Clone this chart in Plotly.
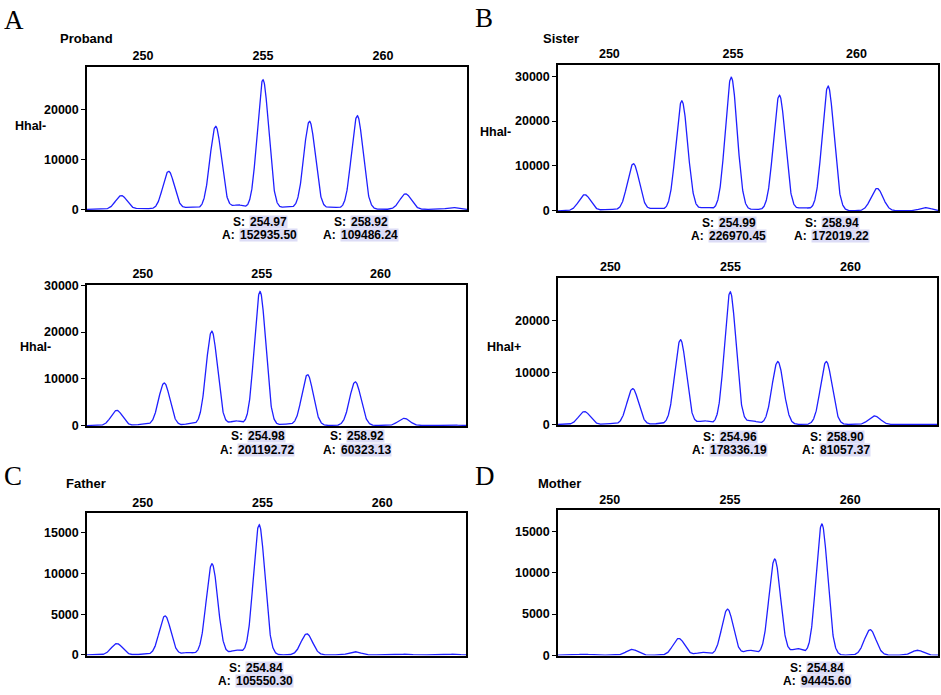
import numpy as np
import plotly.graph_objects as go

# peak sizes (bp) and heights
proband_1_sizes = [249.1, 250.0, 251.07, 252.0, 253.03, 253.96, 255.0, 256.0, 256.94, 257.9, 258.93, 260.94, 262.9]
proband_1_heights = [2750, 200, 7600, 450, 16600, 900, 25900, 500, 17600, 450, 18700, 3100, 350]

proband_2_sizes = [248.9, 250.0, 250.9, 252.0, 252.9, 253.9, 254.93, 256.0, 256.93, 258.94, 260.99, 262.96]
proband_2_heights = [3250, 250, 9100, 400, 20200, 1000, 28700, 300, 10900, 9350, 1550, 200]

sister_1_sizes = [249.0, 250.0, 250.97, 251.9, 252.93, 253.9, 254.93, 255.9, 256.88, 257.85, 258.85, 260.83, 262.8]
sister_1_heights = [3600, 350, 10500, 600, 24500, 800, 29800, 300, 25800, 700, 27800, 5000, 700]

sister_2_sizes = [248.92, 250.0, 250.93, 252.0, 252.92, 253.9, 254.99, 255.9, 256.97, 258.99, 261.0]
sister_2_heights = [2500, 150, 6900, 150, 16300, 700, 25500, 700, 12100, 12100, 1650]

father_sizes = [248.92, 250.0, 250.93, 251.9, 252.89, 253.9, 254.86, 256.85, 258.86, 261.0, 263.0]
father_heights = [1400, 80, 4800, 300, 11200, 600, 16000, 2600, 400, 100, 100]

mother_sizes = [248.92, 250.93, 252.87, 253.85, 254.9, 255.83, 256.86, 257.8, 258.82, 260.83, 262.8]
mother_heights = [120, 700, 2050, 350, 5600, 600, 11700, 800, 15950, 3100, 600]

# called peaks: size (S) and area (A)
proband_1_calls = [("254.97", "152935.50"), ("258.92", "109486.24")]
proband_2_calls = [("254.98", "201192.72"), ("258.92", "60323.13")]
sister_1_calls = [("254.99", "226970.45"), ("258.94", "172019.22")]
sister_2_calls = [("254.96", "178336.19"), ("258.90", "81057.37")]
father_calls = [("254.84", "105550.30")]
mother_calls = [("254.84", "94445.60")]

W, H = 941, 695
PEAK_SIGMA = 0.24
FONT = "Liberation Sans"
HIGHLIGHT = "#dcdcf6"
CALL_SIZE = 12
LINE_GAP = 13.5

# layout of each panel in pixels: x0, x1, y0, y1 (from top)
panels = [
    dict(sizes=proband_1_sizes, heights=proband_1_heights, calls=proband_1_calls,
         box=(87, 467, 62, 208), xr=(247.67, 263.5), yr=(-150, 28480), dtick=10000,
         ylab="HhaI-", ylab_pos=(48, 122), call_x=[254.85, 259.05], call_dy=11.5),
    dict(sizes=proband_2_sizes, heights=proband_2_heights, calls=proband_2_calls,
         box=(87, 466, 284, 428), xr=(247.65, 263.6), yr=(-100, 30150), dtick=10000,
         ylab="HhaI-", ylab_pos=(53, 347), call_x=[254.8, 259.0], call_dy=10.5),
    dict(sizes=sister_1_sizes, heights=sister_1_heights, calls=sister_1_calls,
         box=(558, 938, 60, 209), xr=(247.92, 263.3), yr=(-70, 32540), dtick=10000,
         ylab="HhaI-", ylab_pos=(513, 128), call_x=[254.8, 259.0], call_dy=11.5),
    dict(sizes=sister_2_sizes, heights=sister_2_heights, calls=sister_2_calls,
         box=(558, 937, 277, 427), xr=(247.82, 263.6), yr=(-100, 28200), dtick=10000,
         ylab="HhaI+", ylab_pos=(523, 348), call_x=[254.95, 259.4], call_dy=11.5),
    dict(sizes=father_sizes, heights=father_heights, calls=father_calls,
         box=(87, 466, 517, 662), xr=(247.67, 263.5), yr=(-80, 17400), dtick=5000,
         ylab=None, ylab_pos=None, call_x=[254.7], call_dy=12),
    dict(sizes=mother_sizes, heights=mother_heights, calls=mother_calls,
         box=(558, 938, 514, 662), xr=(247.85, 263.65), yr=(-50, 17600), dtick=5000,
         ylab=None, ylab_pos=None, call_x=[258.6], call_dy=12),
]

titles = [("Proband", 58, 33), ("Sister", 541, 33), ("Father", 64, 487), ("Mother", 536, 487)]
letters = [("A", 2, 14), ("B", 473, 12), ("C", 2, 479), ("D", 473, 479)]


def text_w(s, size):
    # rough Arial bold width
    w = 0
    for c in s:
        if c.isdigit():
            w += 0.556
        elif c == ".":
            w += 0.278
        elif c == ":":
            w += 0.333
        elif c == " ":
            w += 0.278
        else:
            w += 0.72
    return w * size


bold = dict(family=FONT, size=12.5, color="black", weight="bold")
call_font = dict(family=FONT, size=CALL_SIZE, color="black", weight="bold")

fig = go.Figure()
annotations = []
layout = {}

for i, p in enumerate(panels):
    n = "" if i == 0 else str(i + 1)
    xa, ya = "x" + n, "y" + n
    x = np.linspace(p["xr"][0], p["xr"][1], 1600)
    y = np.zeros_like(x)
    for s, h in zip(p["sizes"], p["heights"]):
        y += h * np.exp(-((x - s) ** 2) / (2 * PEAK_SIGMA ** 2))
    fig.add_trace(go.Scatter(x=x, y=y, mode="lines", line=dict(color="#1f1fff", width=1.3),
                             xaxis=xa, yaxis=ya, showlegend=False, hoverinfo="skip"))

    x0, x1, y0, y1 = p["box"]
    layout["xaxis" + n] = dict(
        domain=[x0 / W, x1 / W], anchor=ya, side="top", range=list(p["xr"]),
        tickvals=[250, 255, 260], ticks="", showgrid=False, zeroline=False,
        showline=True, mirror=True, linecolor="black", linewidth=1.5,
        tickfont=bold,
    )
    layout["yaxis" + n] = dict(
        domain=[1 - y1 / H, 1 - y0 / H], anchor=xa, range=list(p["yr"]),
        dtick=p["dtick"], tick0=0, tickformat="d", ticks="outside", ticklen=4,
        tickcolor="black", showgrid=False, zeroline=False,
        showline=True, mirror=True, linecolor="black", linewidth=1.5,
        tickfont=bold,
    )

    if p["ylab"]:
        lx, ly = p["ylab_pos"]
        annotations.append(dict(text=p["ylab"], x=lx / W, y=1 - ly / H,
                                xref="paper", yref="paper", xanchor="right", yanchor="middle",
                                showarrow=False, font=bold))

    # S / A call labels under the peaks
    for (s_val, a_val), cx in zip(p["calls"], p["call_x"]):
        for k, (pre, num) in enumerate([("S: ", s_val), ("A: ", a_val)]):
            shift = (text_w(num, CALL_SIZE) - text_w(pre, CALL_SIZE)) / 2
            dy = -(p["call_dy"] + k * LINE_GAP)
            common = dict(x=cx, y=0, xref=xa, yref=ya + " domain", yanchor="middle",
                          yshift=dy, showarrow=False, height=12, valign="middle", font=call_font)
            annotations.append(dict(text=pre.strip(), xanchor="right",
                                    xshift=-shift - 2, **common))
            annotations.append(dict(text=num, xanchor="left", xshift=-shift,
                                    bgcolor=HIGHLIGHT, borderpad=0, **common))

for t, tx, ty in titles:
    annotations.append(dict(text=t, x=tx / W, y=1 - ty / H, xref="paper", yref="paper",
                            xanchor="left", yanchor="middle", showarrow=False,
                            font=dict(family=FONT, size=13, color="black", weight="bold")))

for t, tx, ty in letters:
    annotations.append(dict(text=t, x=tx / W, y=1 - ty / H, xref="paper", yref="paper",
                            xanchor="left", yanchor="middle", showarrow=False,
                            font=dict(family="Liberation Serif", size=27, color="black")))

fig.update_layout(
    width=W, height=H,
    margin=dict(l=0, r=0, t=0, b=0),
    paper_bgcolor="white", plot_bgcolor="white",
    annotations=annotations,
    **layout,
)

fig.write_html("out.html", config={"displayModeBar": False},
               post_script="document.body.style.margin='0';document.body.style.overflow='hidden';")
